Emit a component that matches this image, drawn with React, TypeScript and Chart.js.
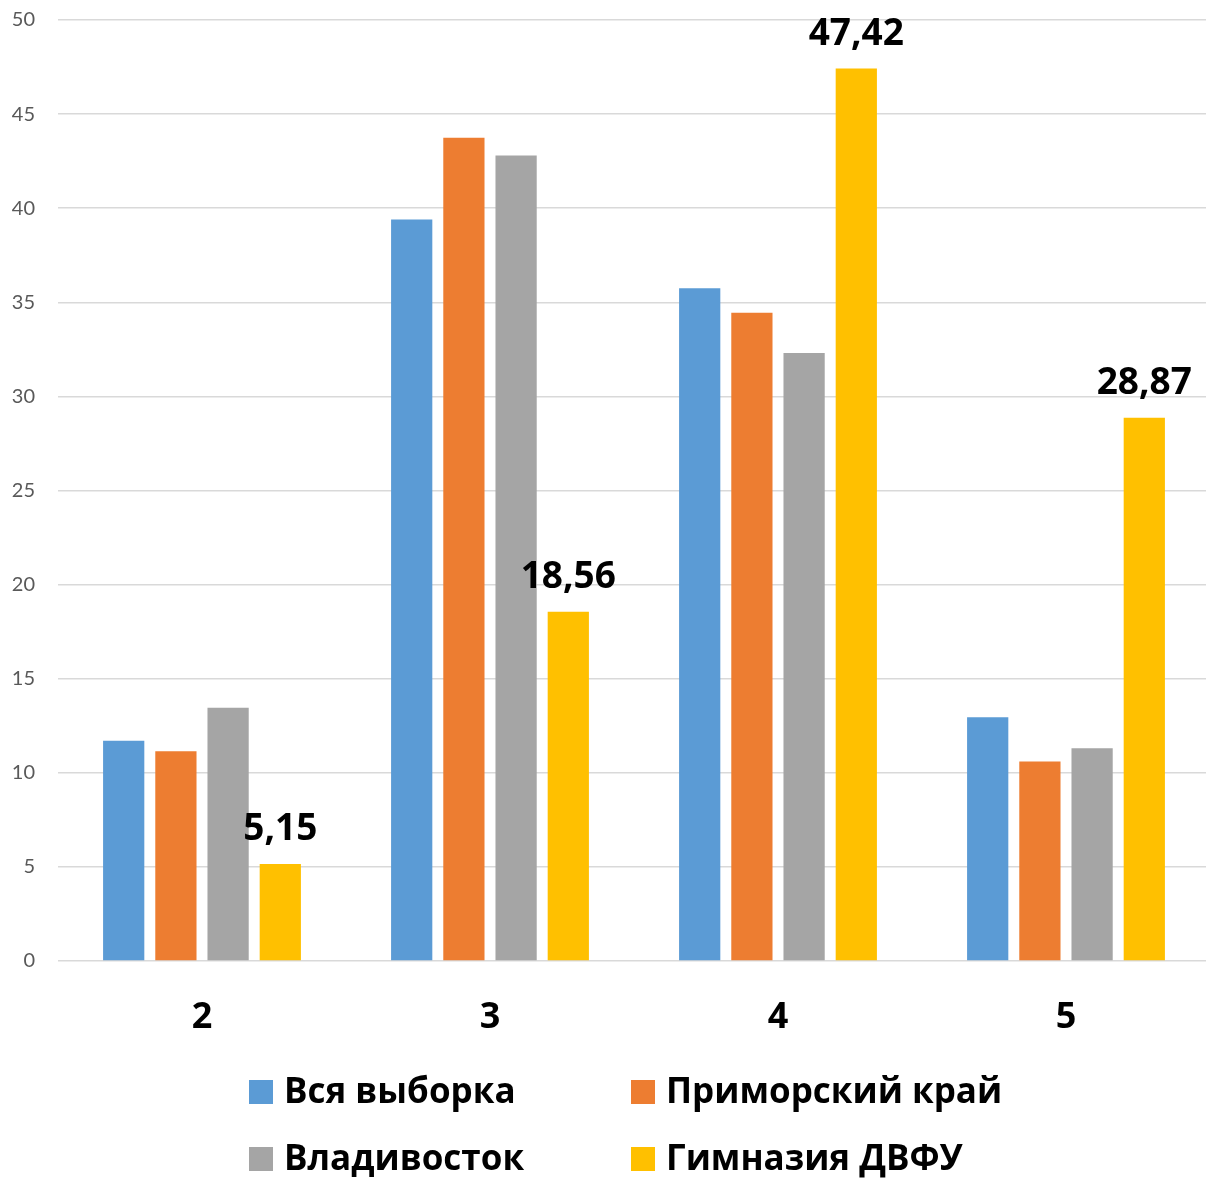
import React, { useEffect, useRef } from "react";
import { Chart, registerables } from "chart.js";

Chart.register(...registerables);

const categories = ["2", "3", "4", "5"];
const seriesNames = ["Вся выборка", "Приморский край", "Владивосток", "Гимназия ДВФУ"];
const allSample = [11.7, 39.4, 35.75, 12.95];
const primorsky = [11.15, 43.75, 34.45, 10.6];
const vladivostok = [13.45, 42.8, 32.3, 11.3];
const gymnasium = [5.15, 18.56, 47.42, 28.87];
const yTicks = [0, 5, 10, 15, 20, 25, 30, 35, 40, 45, 50];
const colors = ["#5B9BD5", "#ED7D31", "#A5A5A5", "#FFC000"];

const FONT = "Lato, 'Open Sans', sans-serif";
const BOLD_FONT = "'Open Sans', Lato, sans-serif";

export default function App() {
  const ref = useRef<HTMLCanvasElement | null>(null);
  useEffect(() => {
    if (!ref.current) return;
    const seriesValues = [allSample, primorsky, vladivostok, gymnasium];

    const labelPlugin = {
      id: "valueLabels",
      afterDatasetsDraw(chart: any) {
        const ctx = chart.ctx;
        const meta = chart.getDatasetMeta(3);
        ctx.save();
        ctx.font = `bold 37px ${BOLD_FONT}`;
        ctx.fillStyle = "#000";
        ctx.textAlign = "center";
        ctx.textBaseline = "alphabetic";
        meta.data.forEach((el: any, i: number) => {
          const v = gymnasium[i].toFixed(2).replace(".", ",");
          ctx.fillText(v, el.x, el.y - 24);
        });
        ctx.restore();
      },
    };

    const legendPlugin = {
      id: "customLegend",
      afterDraw(chart: any) {
        const ctx = chart.ctx;
        ctx.save();
        ctx.font = `bold 35px ${BOLD_FONT}`;
        ctx.textBaseline = "alphabetic";
        ctx.textAlign = "left";
        const cols = [249, 631];
        const rows = [1080, 1147];
        seriesNames.forEach((name, i) => {
          const cx = cols[i % 2];
          const cy = rows[Math.floor(i / 2)];
          ctx.fillStyle = colors[i];
          ctx.fillRect(cx, cy, 24, 24);
          ctx.fillStyle = "#000";
          ctx.fillText(name, cx + 35, cy + 23);
        });
        ctx.restore();
      },
    };

    const chart = new Chart(ref.current, {
      type: "bar",
      data: {
        labels: categories,
        datasets: seriesNames.map((n, i) => ({
          label: n,
          data: seriesValues[i],
          backgroundColor: colors[i],
          borderWidth: 0,
          barPercentage: 0.79,
          categoryPercentage: 0.725,
        })),
      },
      options: {
        responsive: false,
        animation: false,
        layout: { padding: { top: 20, left: 0, right: 0, bottom: 139 } },
        plugins: {
          legend: { display: false },
          tooltip: { enabled: false },
        },
        scales: {
          x: {
            grid: { display: false, drawTicks: false },
            border: { display: false },
            ticks: {
              color: "#000",
              font: { family: BOLD_FONT, size: 36, weight: "bold" },
              padding: 35,
            },
            afterFit(scale: any) {
              scale.height = 79;
            },
          },
          y: {
            min: 0,
            max: 50,
            afterBuildTicks(scale: any) {
              scale.ticks = yTicks.map((v) => ({ value: v }));
            },
            grid: { color: "#D9D9D9", lineWidth: 1.5, drawTicks: false },
            border: { display: false },
            ticks: {
              color: "#595959",
              font: { family: FONT, size: 20 },
              padding: 23,
            },
            afterFit(scale: any) {
              scale.width = 58;
              scale.paddingTop = 10;
              scale.paddingBottom = 10;
            },
          },
        },
      },
      plugins: [labelPlugin, legendPlugin],
    });
    return () => chart.destroy();
  }, []);

  return (
    <div style={{ position: "absolute", left: 0, top: 0, width: 1206, height: 1179, overflow: "hidden", background: "#fff" }}>
      <canvas ref={ref} width={1210} height={1179} style={{ display: "block" }} />
    </div>
  );
}
